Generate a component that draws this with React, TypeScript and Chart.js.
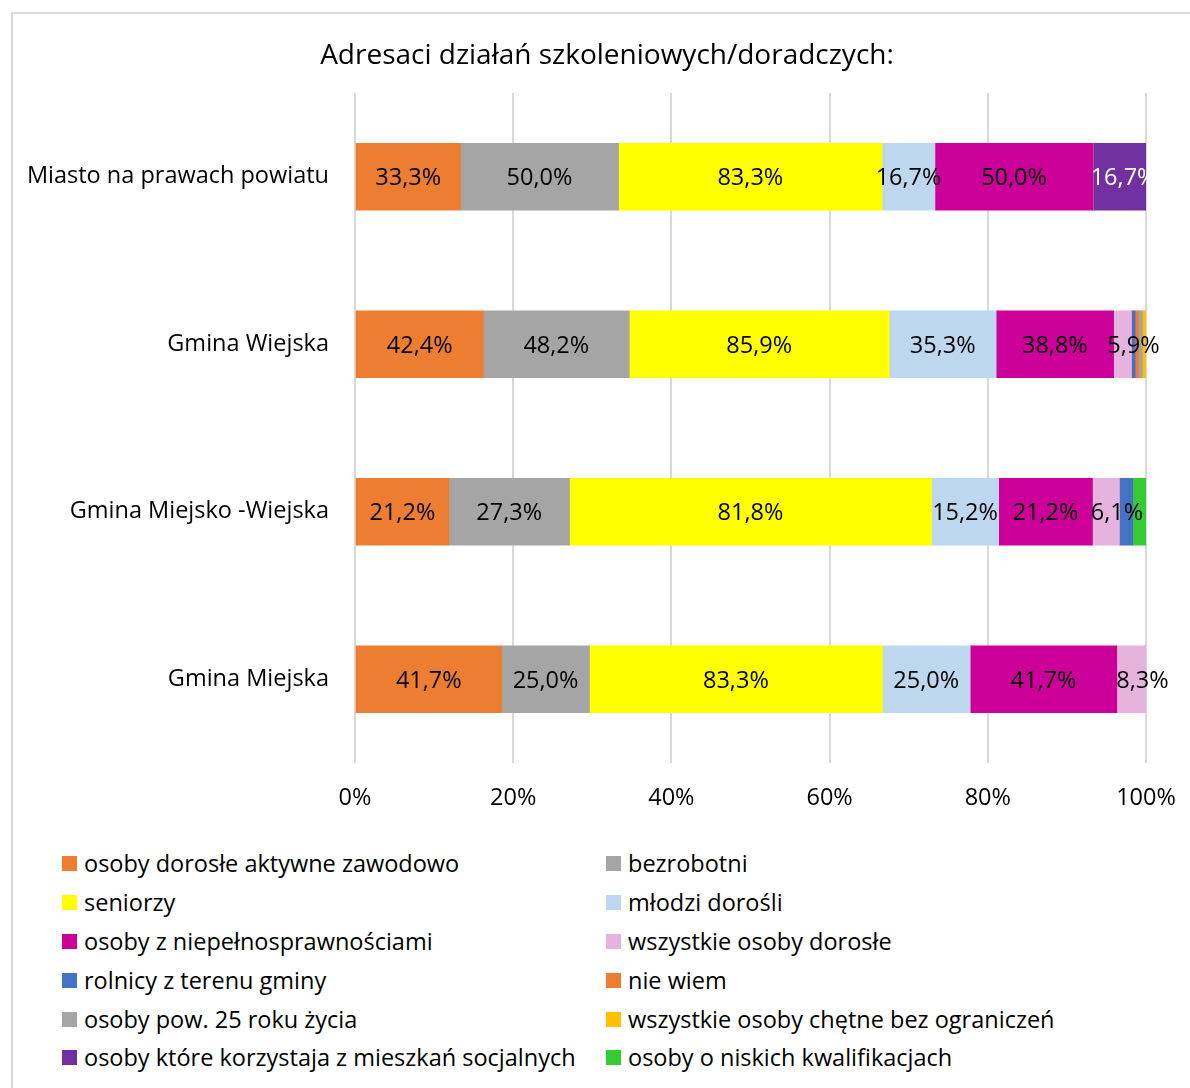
import React, { useEffect, useRef } from "react";
import { Chart, registerables } from "chart.js";

Chart.register(...registerables);

const categories = [
  "Miasto na prawach powiatu",
  "Gmina Wiejska",
  "Gmina Miejsko -Wiejska",
  "Gmina Miejska",
];

const seriesNames = [
  "osoby dorosłe aktywne zawodowo",
  "bezrobotni",
  "seniorzy",
  "młodzi dorośli",
  "osoby z niepełnosprawnościami",
  "wszystkie osoby dorosłe",
  "rolnicy z terenu gminy",
  "nie wiem",
  "osoby pow. 25 roku życia",
  "wszystkie osoby chętne bez ograniczeń",
  "osoby które korzystaja z mieszkań socjalnych",
  "osoby o niskich kwalifikacjach",
];

const aktywne = [33.3, 42.4, 21.2, 41.7];
const bezrobotni = [50.0, 48.2, 27.3, 25.0];
const seniorzy = [83.3, 85.9, 81.8, 83.3];
const mlodzi = [16.7, 35.3, 15.2, 25.0];
const niepelnosprawni = [50.0, 38.8, 21.2, 41.7];
const wszyscyDorosli = [0, 5.9, 6.1, 8.3];
const rolnicy = [0, 1.2, 3.0, 0];
const nieWiem = [0, 1.2, 0, 0];
const pow25 = [0, 1.2, 0, 0];
const chetne = [0, 1.2, 0, 0];
const socjalne = [16.7, 0, 0, 0];
const niskieKwalifikacje = [0, 0, 3.0, 0];

const xTicks = [0, 20, 40, 60, 80, 100];

const seriesValues = [
  aktywne,
  bezrobotni,
  seniorzy,
  mlodzi,
  niepelnosprawni,
  wszyscyDorosli,
  rolnicy,
  nieWiem,
  pow25,
  chetne,
  socjalne,
  niskieKwalifikacje,
];

const colors = [
  "#ED7D31",
  "#A5A5A5",
  "#FFFF00",
  "#BDD7EE",
  "#CC0099",
  "#E6B2DE",
  "#4472C4",
  "#ED7D31",
  "#A5A5A5",
  "#FFC000",
  "#7030A0",
  "#33CC33",
];

const labelColors = seriesNames.map((_, i) => (i === 10 ? "#FFFFFF" : "#000000"));
const labelShift = seriesNames.map((_, i) => (i === 5 ? 11 : i === 10 ? 4 : 0));

const FONT = "'Open Sans', sans-serif";
const FS = 23.5;

const totals = categories.map((_, ci) =>
  seriesValues.reduce((s, arr) => s + arr[ci], 0)
);

const fmt = (v: number) => v.toFixed(1).replace(".", ",") + "%";

const labelPlugin = {
  id: "segLabels",
  afterDatasetsDraw(chart: any) {
    const ctx = chart.ctx;
    ctx.save();
    ctx.font = `${FS}px ${FONT}`;
    ctx.textAlign = "center";
    ctx.textBaseline = "middle";
    chart.data.datasets.forEach((ds: any, di: number) => {
      const meta = chart.getDatasetMeta(di);
      meta.data.forEach((el: any, i: number) => {
        const raw = seriesValues[di][i];
        if (raw < 5) return;
        const cx = (el.x + el.base) / 2 + labelShift[di];
        ctx.fillStyle = labelColors[di];
        ctx.fillText(fmt(raw), cx, el.y + 2);
      });
    });
    ctx.restore();
  },
};

export default function App() {
  const ref = useRef<HTMLCanvasElement | null>(null);

  useEffect(() => {
    document.body.style.margin = "0";
    if (!ref.current) return;
    const chart = new Chart(ref.current, {
      type: "bar",
      data: {
        labels: categories,
        datasets: seriesNames.map((name, di) => ({
          label: name,
          data: seriesValues[di].map((v, ci) => (v / totals[ci]) * 100),
          backgroundColor: colors[di],
          borderWidth: 0,
          barThickness: 67,
        })),
      },
      options: {
        indexAxis: "y",
        animation: false,
        responsive: false,
        events: [],
        layout: { padding: { top: 93, right: 44, left: 0, bottom: 0 } },
        plugins: {
          legend: { display: false },
          title: { display: false },
          tooltip: { enabled: false },
        },
        scales: {
          x: {
            stacked: true,
            min: 0,
            max: 100,
            afterBuildTicks: (s: any) => {
              s.ticks = xTicks.map((v) => ({ value: v }));
            },
            afterFit: (s: any) => {
              s.height = 67;
              s.paddingLeft = 0;
              s.paddingRight = 0;
            },
            ticks: {
              callback: (v: any) => v + "%",
              color: "#000000",
              font: { family: FONT, size: FS },
              padding: 21,
              maxRotation: 0,
            },
            grid: { color: "#D9D9D9", lineWidth: 2, drawTicks: false },
            border: { display: false },
          },
          y: {
            stacked: true,
            afterFit: (s: any) => {
              s.width = 355;
              s.paddingTop = 0;
              s.paddingBottom = 0;
            },
            ticks: {
              color: "#000000",
              font: { family: FONT, size: FS },
              padding: 18,
            },
            grid: { display: false },
            border: { display: false },
          },
        },
      },
      plugins: [labelPlugin],
    } as any);
    return () => chart.destroy();
  }, []);

  const rowY = [863, 902, 941, 980, 1019, 1057];

  return (
    <div
      style={{
        position: "relative",
        width: 1190,
        height: 1088,
        overflow: "hidden",
        background: "#FFFFFF",
        fontFamily: FONT,
      }}
    >
      <div
        style={{
          position: "absolute",
          left: 11,
          top: 12,
          width: 1300,
          height: 1200,
          border: "2px solid #D9D9D9",
          boxSizing: "border-box",
        }}
      />
      <canvas
        ref={ref}
        width={1190}
        height={830}
        style={{ position: "absolute", left: 0, top: 0 }}
      />
      <div
        style={{
          position: "absolute",
          left: 0,
          width: 1214,
          top: 53 - 20,
          height: 40,
          lineHeight: "40px",
          textAlign: "center",
          fontSize: 28,
          color: "#000000",
          whiteSpace: "nowrap",
        }}
      >
        Adresaci działań szkoleniowych/doradczych:
      </div>
      {seriesNames.map((name, i) => {
        const col = i % 2;
        const row = Math.floor(i / 2);
        const left = col === 0 ? 62 : 606;
        return (
          <div
            key={name}
            style={{
              position: "absolute",
              left,
              top: rowY[row] - 16,
              height: 32,
              display: "flex",
              alignItems: "center",
              whiteSpace: "nowrap",
            }}
          >
            <span
              style={{
                display: "inline-block",
                width: 15,
                height: 15,
                background: colors[i],
                marginRight: 7,
              }}
            />
            <span style={{ fontSize: FS, color: "#000000", lineHeight: "32px" }}>
              {name}
            </span>
          </div>
        );
      })}
    </div>
  );
}
